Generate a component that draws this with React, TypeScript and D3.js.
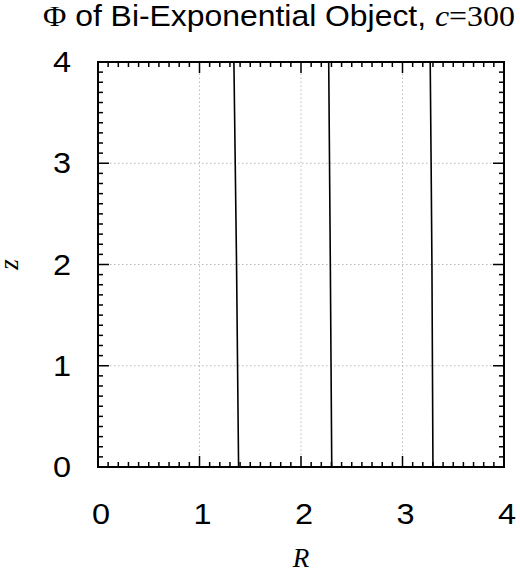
import React, { useEffect, useRef } from 'react';
import * as d3 from 'd3';

// contour levels of Phi: R position read at z = 0, 1, 2, 3, 4
const zLevels = [0, 1, 2, 3, 4];
const contourR = [
  [1.385, 1.375, 1.365, 1.352, 1.339],
  [2.303, 2.296, 2.289, 2.281, 2.273],
  [3.300, 3.295, 3.290, 3.282, 3.273],
];
const xTicks = [0, 1, 2, 3, 4];
const yTicks = [0, 1, 2, 3, 4];

const W = 520;
const H = 572;
const M = { left: 98, right: 16, top: 62, bottom: 105 };

const App: React.FC = () => {
  const svgRef = useRef<SVGSVGElement>(null);

  useEffect(() => {
    if (!svgRef.current) return;
    const svg = d3.select(svgRef.current);
    svg.selectAll('*').remove();

    const x = d3.scaleLinear().domain([0, 4]).range([M.left, W - M.right]);
    const y = d3.scaleLinear().domain([0, 4]).range([H - M.bottom, M.top]);
    const sans = '"Liberation Sans", Arial, Helvetica, sans-serif';
    const serif = '"Liberation Serif", "Times New Roman", serif';
    const stretch = 1.12; // reference glyphs are a bit wider than Liberation's

    // grid
    const grid = svg.append('g').attr('stroke', '#bbb').attr('stroke-width', 1).attr('stroke-dasharray', '1.5,2.5');
    grid.selectAll('line.gx').data(xTicks.slice(1, -1)).join('line').attr('class', 'gx')
      .attr('x1', d => x(d)).attr('x2', d => x(d)).attr('y1', y(0)).attr('y2', y(4));
    grid.selectAll('line.gy').data(yTicks.slice(1, -1)).join('line').attr('class', 'gy')
      .attr('y1', d => y(d)).attr('y2', d => y(d)).attr('x1', x(0)).attr('x2', x(4));

    // minor / major ticks on all four sides
    const minor = d3.range(0, 40.5, 1).map(d => d / 10);
    const tk = svg.append('g').attr('stroke', '#000').attr('stroke-width', 1.5);
    const len = (d: number) => (Math.abs(d - Math.round(d)) < 1e-6 ? 11 : 5);
    tk.selectAll('line.b').data(minor).join('line').attr('class', 'b')
      .attr('x1', d => x(d)).attr('x2', d => x(d)).attr('y1', y(0)).attr('y2', d => y(0) - len(d));
    tk.selectAll('line.t').data(minor).join('line').attr('class', 't')
      .attr('x1', d => x(d)).attr('x2', d => x(d)).attr('y1', y(4)).attr('y2', d => y(4) + len(d));
    tk.selectAll('line.l').data(minor).join('line').attr('class', 'l')
      .attr('y1', d => y(d)).attr('y2', d => y(d)).attr('x1', x(0)).attr('x2', d => x(0) + len(d));
    tk.selectAll('line.r').data(minor).join('line').attr('class', 'r')
      .attr('y1', d => y(d)).attr('y2', d => y(d)).attr('x1', x(4)).attr('x2', d => x(4) - len(d));

    // contours
    const line = d3.line<[number, number]>().x(d => x(d[0])).y(d => y(d[1]));
    svg.append('g').selectAll('path').data(contourR).join('path')
      .attr('d', rs => line(rs.map((r, i) => [r, zLevels[i]] as [number, number])))
      .attr('fill', 'none').attr('stroke', '#000').attr('stroke-width', 1.6);

    // frame
    svg.append('rect').attr('x', x(0)).attr('y', y(4))
      .attr('width', x(4) - x(0)).attr('height', y(0) - y(4))
      .attr('fill', 'none').attr('stroke', '#000').attr('stroke-width', 2);

    // tick labels
    svg.append('g').selectAll('text').data(xTicks).join('text')
      .attr('transform', d => `translate(${x(d) + 3},524) scale(${stretch},1)`)
      .attr('text-anchor', 'middle')
      .attr('font-family', sans).attr('font-size', 29).text(d => d);
    svg.append('g').selectAll('text').data(yTicks).join('text')
      .attr('transform', d => `translate(71,${y(d) + 10}) scale(${stretch},1)`)
      .attr('text-anchor', 'end')
      .attr('font-family', sans).attr('font-size', 29).text(d => d);

    // axis titles
    svg.append('text').attr('x', x(2)).attr('y', 567).attr('text-anchor', 'middle')
      .attr('font-family', serif).attr('font-style', 'italic').attr('font-size', 27).text('R');
    svg.append('text').attr('transform', `translate(18,${y(2)}) rotate(-90)`).attr('text-anchor', 'middle')
      .attr('font-family', serif).attr('font-style', 'italic').attr('font-size', 27).text('z');

    // title
    const t = svg.append('text').attr('transform', 'translate(43,26) scale(1.1,1)').attr('font-size', 29);
    t.append('tspan').attr('font-family', serif).text('Φ');
    t.append('tspan').attr('font-family', sans).text(' of Bi-Exponential Object, ');
    t.append('tspan').attr('font-family', serif).attr('font-style', 'italic').text('c');
    t.append('tspan').attr('font-family', serif).text('=300');
  }, []);

  return (
    <svg ref={svgRef} width={W} height={H}
      style={{ position: 'absolute', left: 0, top: 0, background: '#fff' }} />
  );
};

export default App;
